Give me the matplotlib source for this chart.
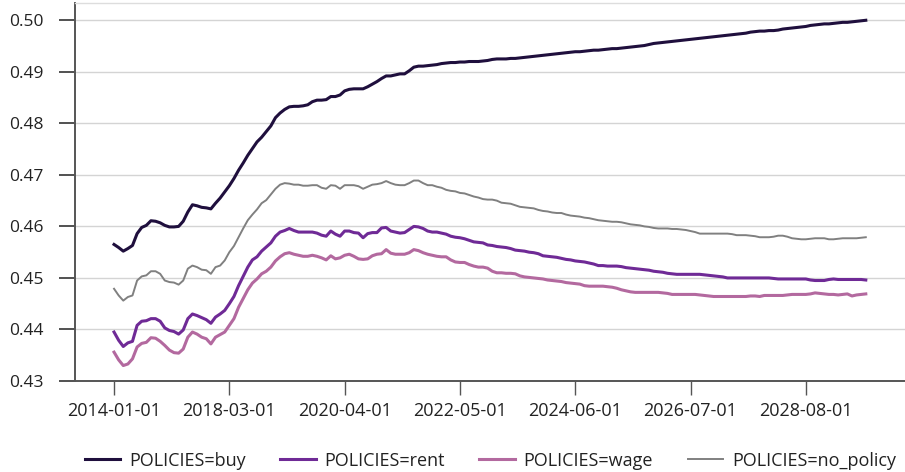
import numpy as np
import pandas as pd
import matplotlib
matplotlib.use("Agg")
import matplotlib.pyplot as plt

plt.rcParams['font.family'] = ['Open Sans', 'DejaVu Sans']

# --------------------------------------------------------------------------
# Periods: bi-monthly until early 2018, monthly afterwards
# --------------------------------------------------------------------------
dates = pd.date_range('2014-01-01', periods=25, freq='2MS').append(
    pd.date_range('2018-03-01', periods=139, freq='MS'))

buy = [
    0.4565, 0.4559, 0.4552, 0.4557, 0.4563, 0.4586, 0.4598, 0.4602, 0.4611, 0.4610,
    0.4607, 0.4602, 0.4599, 0.4599, 0.4600, 0.4610, 0.4628, 0.4642, 0.4640, 0.4637,
    0.4636, 0.4634, 0.4645, 0.4655, 0.4667, 0.4679, 0.4693, 0.4709, 0.4723, 0.4738,
    0.4751, 0.4764, 0.4773, 0.4784, 0.4795, 0.4811, 0.4820, 0.4827, 0.4832, 0.4833,
    0.4833, 0.4834, 0.4836, 0.4842, 0.4845, 0.4845, 0.4846, 0.4852, 0.4852, 0.4855,
    0.4863, 0.4866, 0.4867, 0.4867, 0.4867, 0.4871, 0.4876, 0.4881, 0.4887, 0.4892,
    0.4892, 0.4894, 0.4896, 0.4896, 0.4902, 0.4909, 0.4911, 0.4911, 0.4912, 0.4913,
    0.4914, 0.4916, 0.4917, 0.4918, 0.4918, 0.4919, 0.4919, 0.4920, 0.4920, 0.4920,
    0.4921, 0.4922, 0.4924, 0.4925, 0.4925, 0.4925, 0.4926, 0.4926, 0.4927, 0.4928,
    0.4929, 0.4930, 0.4931, 0.4932, 0.4933, 0.4934, 0.4935, 0.4936, 0.4937, 0.4938,
    0.4939, 0.4939, 0.4940, 0.4941, 0.4942, 0.4942, 0.4943, 0.4944, 0.4945, 0.4945,
    0.4946, 0.4947, 0.4948, 0.4949, 0.4950, 0.4951, 0.4953, 0.4955, 0.4956, 0.4957,
    0.4958, 0.4959, 0.4960, 0.4961, 0.4962, 0.4963, 0.4964, 0.4965, 0.4966, 0.4967,
    0.4968, 0.4969, 0.4970, 0.4971, 0.4972, 0.4973, 0.4974, 0.4975, 0.4977, 0.4978,
    0.4979, 0.4979, 0.4980, 0.4980, 0.4981, 0.4983, 0.4984, 0.4985, 0.4986, 0.4987,
    0.4988, 0.4990, 0.4991, 0.4992, 0.4993, 0.4993, 0.4994, 0.4995, 0.4996, 0.4996,
    0.4997, 0.4998, 0.4999, 0.5000]

rent = [
    0.4395, 0.4379, 0.4367, 0.4374, 0.4377, 0.4408, 0.4416, 0.4417, 0.4421, 0.4421,
    0.4416, 0.4403, 0.4398, 0.4396, 0.4391, 0.4399, 0.4421, 0.4430, 0.4427, 0.4423,
    0.4419, 0.4412, 0.4424, 0.4430, 0.4437, 0.4450, 0.4464, 0.4485, 0.4503, 0.4521,
    0.4535, 0.4541, 0.4552, 0.4560, 0.4568, 0.4581, 0.4589, 0.4592, 0.4596, 0.4592,
    0.4589, 0.4589, 0.4589, 0.4589, 0.4587, 0.4583, 0.4581, 0.4591, 0.4585, 0.4581,
    0.4591, 0.4591, 0.4588, 0.4587, 0.4578, 0.4586, 0.4588, 0.4588, 0.4597, 0.4598,
    0.4591, 0.4589, 0.4587, 0.4588, 0.4594, 0.4600, 0.4599, 0.4596, 0.4591, 0.4589,
    0.4589, 0.4587, 0.4585, 0.4581, 0.4579, 0.4578, 0.4576, 0.4573, 0.4570, 0.4569,
    0.4568, 0.4564, 0.4563, 0.4561, 0.4560, 0.4559, 0.4557, 0.4554, 0.4553, 0.4552,
    0.4550, 0.4549, 0.4547, 0.4543, 0.4542, 0.4541, 0.4540, 0.4538, 0.4536, 0.4535,
    0.4533, 0.4532, 0.4531, 0.4529, 0.4527, 0.4524, 0.4524, 0.4523, 0.4523, 0.4523,
    0.4522, 0.4520, 0.4519, 0.4518, 0.4517, 0.4516, 0.4515, 0.4513, 0.4512, 0.4511,
    0.4509, 0.4508, 0.4507, 0.4507, 0.4507, 0.4507, 0.4507, 0.4507, 0.4506, 0.4505,
    0.4504, 0.4503, 0.4502, 0.4500, 0.4500, 0.4500, 0.4500, 0.4500, 0.4500, 0.4500,
    0.4500, 0.4500, 0.4500, 0.4499, 0.4498, 0.4498, 0.4498, 0.4498, 0.4498, 0.4498,
    0.4498, 0.4496, 0.4495, 0.4495, 0.4495, 0.4497, 0.4498, 0.4497, 0.4497, 0.4497,
    0.4497, 0.4497, 0.4497, 0.4496]

wage = [
    0.4356, 0.4341, 0.4330, 0.4333, 0.4343, 0.4366, 0.4373, 0.4375, 0.4384, 0.4383,
    0.4377, 0.4369, 0.4360, 0.4355, 0.4354, 0.4362, 0.4385, 0.4395, 0.4391, 0.4385,
    0.4382, 0.4372, 0.4385, 0.4390, 0.4395, 0.4408, 0.4421, 0.4443, 0.4460, 0.4477,
    0.4490, 0.4498, 0.4508, 0.4513, 0.4521, 0.4533, 0.4541, 0.4547, 0.4549, 0.4546,
    0.4544, 0.4542, 0.4542, 0.4544, 0.4542, 0.4539, 0.4535, 0.4543, 0.4537, 0.4539,
    0.4544, 0.4546, 0.4542, 0.4537, 0.4536, 0.4537, 0.4543, 0.4546, 0.4547, 0.4555,
    0.4548, 0.4546, 0.4546, 0.4546, 0.4549, 0.4555, 0.4553, 0.4549, 0.4546, 0.4544,
    0.4542, 0.4541, 0.4541, 0.4535, 0.4531, 0.4530, 0.4530, 0.4526, 0.4523, 0.4521,
    0.4521, 0.4519, 0.4513, 0.4510, 0.4510, 0.4509, 0.4509, 0.4508, 0.4504, 0.4502,
    0.4501, 0.4500, 0.4499, 0.4498, 0.4496, 0.4495, 0.4494, 0.4493, 0.4491, 0.4490,
    0.4489, 0.4488, 0.4485, 0.4484, 0.4484, 0.4484, 0.4484, 0.4483, 0.4482, 0.4480,
    0.4477, 0.4475, 0.4473, 0.4472, 0.4472, 0.4472, 0.4472, 0.4472, 0.4472, 0.4471,
    0.4470, 0.4468, 0.4468, 0.4468, 0.4468, 0.4468, 0.4468, 0.4467, 0.4466, 0.4465,
    0.4464, 0.4464, 0.4464, 0.4464, 0.4464, 0.4464, 0.4464, 0.4464, 0.4465, 0.4465,
    0.4464, 0.4466, 0.4466, 0.4466, 0.4466, 0.4466, 0.4467, 0.4468, 0.4468, 0.4468,
    0.4468, 0.4469, 0.4471, 0.4470, 0.4469, 0.4468, 0.4468, 0.4467, 0.4468, 0.4469,
    0.4465, 0.4467, 0.4468, 0.4469]

no_policy = [
    0.4479, 0.4466, 0.4456, 0.4463, 0.4466, 0.4495, 0.4503, 0.4505, 0.4513, 0.4513,
    0.4508, 0.4495, 0.4492, 0.4491, 0.4487, 0.4495, 0.4518, 0.4524, 0.4521, 0.4516,
    0.4515, 0.4508, 0.4521, 0.4524, 0.4534, 0.4550, 0.4562, 0.4579, 0.4596, 0.4612,
    0.4623, 0.4633, 0.4645, 0.4651, 0.4662, 0.4673, 0.4681, 0.4684, 0.4683, 0.4681,
    0.4681, 0.4679, 0.4679, 0.4680, 0.4680, 0.4675, 0.4673, 0.4680, 0.4679, 0.4673,
    0.4680, 0.4680, 0.4680, 0.4678, 0.4673, 0.4677, 0.4681, 0.4682, 0.4684, 0.4688,
    0.4684, 0.4681, 0.4680, 0.4680, 0.4684, 0.4689, 0.4689, 0.4684, 0.4680, 0.4680,
    0.4677, 0.4675, 0.4671, 0.4669, 0.4668, 0.4665, 0.4664, 0.4661, 0.4658, 0.4656,
    0.4653, 0.4652, 0.4652, 0.4650, 0.4646, 0.4645, 0.4644, 0.4641, 0.4638, 0.4637,
    0.4636, 0.4635, 0.4632, 0.4630, 0.4629, 0.4627, 0.4626, 0.4626, 0.4623, 0.4621,
    0.4620, 0.4619, 0.4617, 0.4616, 0.4614, 0.4612, 0.4611, 0.4610, 0.4609, 0.4609,
    0.4608, 0.4606, 0.4604, 0.4603, 0.4602, 0.4600, 0.4599, 0.4597, 0.4596, 0.4596,
    0.4596, 0.4595, 0.4595, 0.4594, 0.4593, 0.4591, 0.4589, 0.4586, 0.4586, 0.4586,
    0.4586, 0.4586, 0.4586, 0.4586, 0.4585, 0.4583, 0.4583, 0.4583, 0.4582, 0.4581,
    0.4579, 0.4579, 0.4579, 0.4580, 0.4582, 0.4582, 0.4580, 0.4577, 0.4576, 0.4575,
    0.4575, 0.4576, 0.4577, 0.4577, 0.4577, 0.4575, 0.4575, 0.4576, 0.4577, 0.4577,
    0.4577, 0.4577, 0.4578, 0.4579]

# one label every 25 periods
tick_step = 25
y_ticks = [0.43, 0.44, 0.45, 0.46, 0.47, 0.48, 0.49, 0.50]

# --------------------------------------------------------------------------
# Plot
# --------------------------------------------------------------------------
fig = plt.figure(figsize=(9.05, 4.72), dpi=100)
ax = fig.add_axes([0.0829, 0.1928, 0.9171, 0.8008])

x = np.arange(len(dates))
ax.plot(x, buy, color='#1f0f3d', lw=2.2, label='POLICIES=buy', zorder=4)
ax.plot(x, rent, color='#6f2a96', lw=2.2, label='POLICIES=rent', zorder=3)
ax.plot(x, wage, color='#b3699f', lw=2.2, label='POLICIES=wage', zorder=3)
ax.plot(x, no_policy, color='#808080', lw=1.4, label='POLICIES=no_policy', zorder=3)

ticks = x[::tick_step]
ax.set_xticks(ticks)
ax.set_xticklabels([dates[i].strftime('%Y-%m-%d') for i in ticks])
ax.set_yticks(y_ticks)
ax.set_yticklabels([f'{v:.2f}' for v in y_ticks])

ax.set_xlim(-8.46, 171.5)
ax.set_ylim(0.43, 0.50335)

ax.grid(axis='y', color='#d4d4d4', lw=1.0)
ax.set_axisbelow(True)

ax.spines['right'].set_visible(False)
ax.spines['top'].set_color('#dddddd')
ax.spines['top'].set_linewidth(1.0)
for side in ['left', 'bottom']:
    ax.spines[side].set_color('#555555')
    ax.spines[side].set_linewidth(1.4)

ax.tick_params(axis='y', length=11.5, width=1.2, color='#333333', pad=11,
               labelsize=12.5, labelcolor='#222222')
ax.tick_params(axis='x', length=10, width=1.0, color='#555555', pad=5,
               labelsize=13, labelcolor='#222222')

fig.legend(loc='center', bbox_to_anchor=(0.542, 0.024), ncol=4, frameon=False,
           fontsize=13, handlelength=1.95, handletextpad=0.5, columnspacing=1.9,
           labelcolor='#222222')

fig.savefig('out.png', dpi=100)
